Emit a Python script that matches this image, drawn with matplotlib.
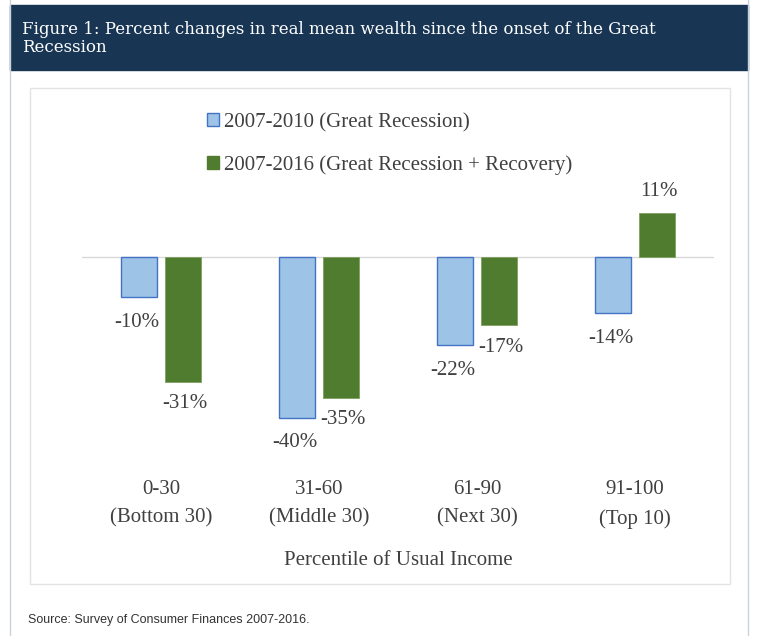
import matplotlib.pyplot as plt
from matplotlib.patches import Rectangle, Patch
from matplotlib.lines import Line2D

groups = ['0-30\n(Bottom 30)', '31-60\n(Middle 30)', '61-90\n(Next 30)', '91-100\n(Top 10)']
recession = [-10, -40, -22, -14]
recovery = [-31, -35, -17, 11]
series_names = ['2007-2010 (Great Recession)', '2007-2016 (Great Recession + Recovery)']

W, H = 761, 636
fig = plt.figure(figsize=(W / 100, H / 100), dpi=100)
fig.patch.set_facecolor('white')

# card outline + title banner
fig.add_artist(Line2D([10 / W, 10 / W], [0, 1], color='#c9d3dd', lw=1))
fig.add_artist(Line2D([748 / W, 748 / W], [0, 1], color='#c9d3dd', lw=1))
fig.add_artist(Rectangle((10 / W, 1 - 70 / H), 738 / W, 65 / H, color='#183654', zorder=0))
fig.text(22 / W, 1 - 38.5 / H,
         'Figure 1: Percent changes in real mean wealth since the onset of the Great\nRecession',
         color='white', fontsize=12, family='DejaVu Serif', va='center', linespacing=1.15)
# inner chart frame
fig.add_artist(Rectangle((30 / W, 1 - 584 / H), 700 / W, 496 / H, fill=False,
                         edgecolor='#e3e3e3', lw=1))
fig.text(28 / W, 1 - 620 / H, 'Source: Survey of Consumer Finances 2007-2016.',
         fontsize=9, family='Liberation Sans', color='#333333', va='center')

ax = fig.add_axes([82 / W, 1 - 458 / H, 632 / W, 321.6 / H])
x = range(len(groups))
w = 0.228
off = 0.142
blue_face, blue_edge = '#9dc3e6', '#4472c4'
green = '#507c30'
txt = '#404040'

ax.bar([i - off for i in x], recession, w, color=blue_face, edgecolor=blue_edge, lw=1, zorder=2)
ax.bar([i + off for i in x], recovery, w, color=green, edgecolor='#7fa060', lw=0.6, zorder=2)
ax.axhline(0, color='#d9d9d9', lw=1, zorder=1)
ax.set_xlim(-0.5, 3.5)
ax.set_ylim(-50, 30)

for i, v in enumerate(recession):
    ax.annotate(f'{v}%', (i - off, v), xytext=(-1, -18), textcoords='offset points',
                ha='center', va='center', fontsize=15, family='Liberation Serif', color=txt)
for i, v in enumerate(recovery):
    dy = 15 if v > 0 else -16
    ax.annotate(f'{v}%', (i + off, v), xytext=(1, dy), textcoords='offset points',
                ha='center', va='center', fontsize=15, family='Liberation Serif', color=txt)

ax.set_xticks(list(x))
ax.set_xticklabels(groups, fontsize=15, family='Liberation Serif', color=txt, linespacing=1.65)
ax.tick_params(axis='x', length=0, pad=16)
ax.set_yticks([])
ax.set_xlabel('Percentile of Usual Income', fontsize=15, family='Liberation Serif',
              color=txt, labelpad=16)
for s in ax.spines.values():
    s.set_visible(False)

handles = [Patch(facecolor=blue_face, edgecolor=blue_edge), Patch(facecolor=green, edgecolor=green)]
fig.legend(handles, series_names, loc='upper left', bbox_to_anchor=(188 / W, 1 - 94 / H),
           frameon=False, prop={'family': 'Liberation Serif', 'size': 15},
           handlelength=0.6, handleheight=0.6, handletextpad=0.25, labelspacing=1.1,
           labelcolor=txt)

fig.savefig('out.png', dpi=100)
